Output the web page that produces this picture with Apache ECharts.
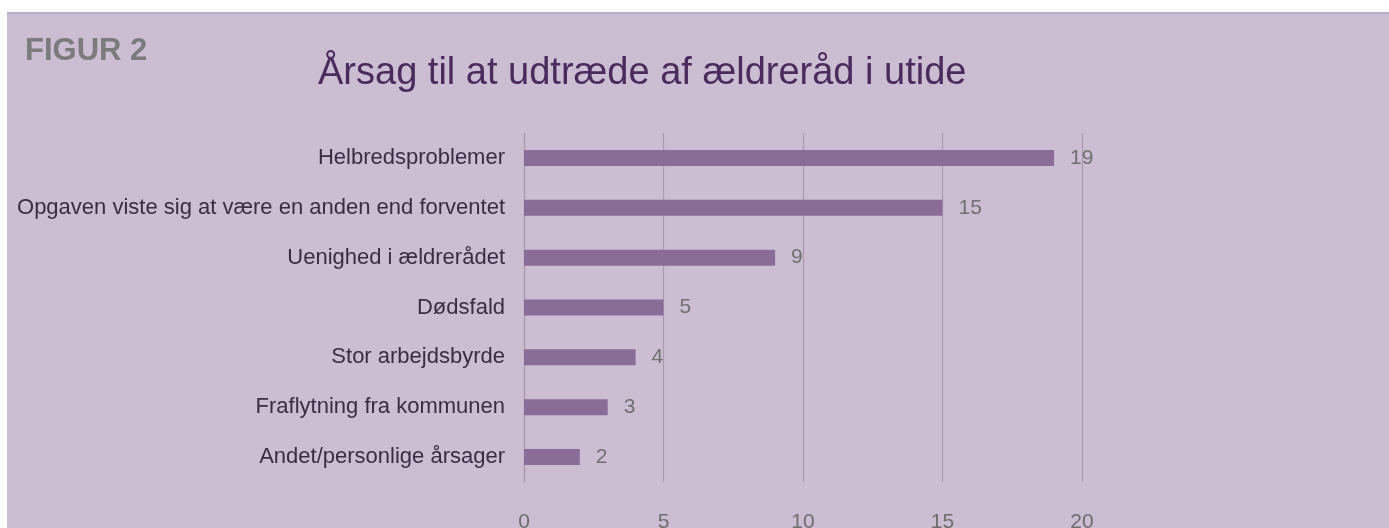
<!DOCTYPE html>
<html><head><meta charset="utf-8">
<script src="https://cdn.jsdelivr.net/npm/echarts@6/dist/echarts.min.js"></script>
<style>
html,body{margin:0;padding:0;background:#fff;width:1389px;height:528px;overflow:hidden;}
#panel{position:absolute;left:7px;top:12px;width:1382px;height:516px;background:#cbbdd2;border-top:2px solid #bca9c4;box-sizing:border-box;}
#chart{position:absolute;left:0;top:0;width:1389px;height:528px;}
</style></head>
<body>
<div id="panel"></div>
<div id="chart"></div>
<script>
const categories = ["Helbredsproblemer","Opgaven viste sig at være en anden end forventet","Uenighed i ældrerådet","Dødsfald","Stor arbejdsbyrde","Fraflytning fra kommunen","Andet/personlige årsager"];
const values = [19,15,9,5,4,3,2];
const xTicks = [0,5,10,15,20];
const titleText = "Årsag til at udtræde af ældreråd i utide";
const figLabel = "FIGUR 2";

const chart = echarts.init(document.getElementById('chart'), null, {renderer:'canvas'});
chart.setOption({
  backgroundColor:'transparent',
  animation:false,
  title:[
    {text:figLabel,left:25,top:36,padding:0,textStyle:{fontFamily:'Liberation Sans',fontWeight:'bold',fontSize:31,color:'#7b7b7b'}},
    {text:titleText,left:318,top:55,padding:0,textStyle:{fontFamily:'Liberation Sans',fontWeight:'normal',fontSize:38,color:'#4b2a5e'}}
  ],
  grid:{left:524,right:307,top:133,bottom:46,containLabel:false,outerBoundsMode:'none'},
  xAxis:{type:'value',min:xTicks[0],max:xTicks[xTicks.length-1],interval:5,
    axisLine:{show:false},axisTick:{show:false},
    splitLine:{show:true,lineStyle:{color:'#a99aae',width:1.2}},
    axisLabel:{margin:30,fontFamily:'Liberation Sans',fontSize:21,color:'#6e6e6e'}},
  yAxis:{type:'category',data:categories,inverse:true,
    axisLine:{show:true,lineStyle:{color:'#a99aae',width:1.2}},axisTick:{show:false},
    axisLabel:{margin:19,fontFamily:'Liberation Sans',fontSize:22,color:'#3a2c42'}},
  series:[{type:'bar',data:values,barWidth:16,
    itemStyle:{color:'#8a6c98'},
    label:{show:true,position:'right',distance:16,fontFamily:'Liberation Sans',fontSize:21,color:'#707070'}}]
});
</script>
</body></html>
